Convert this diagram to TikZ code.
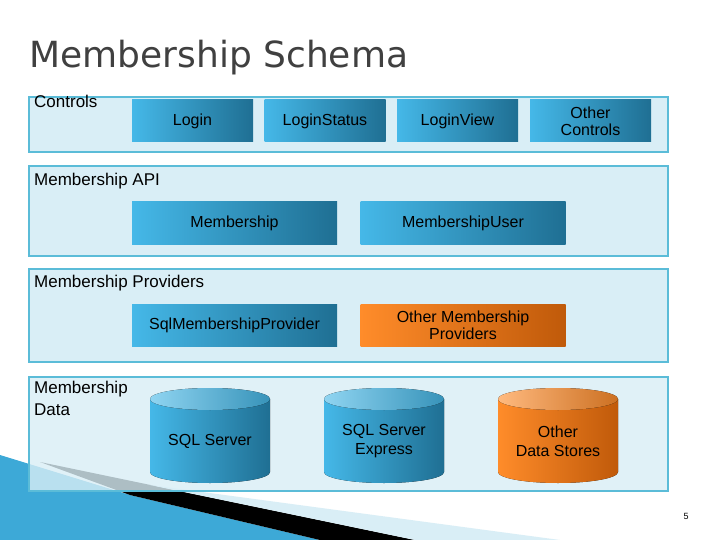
\documentclass[tikz,border=0pt]{standalone}
\usepackage{fontspec}
\setmainfont{Liberation Sans}
\newfontfamily\titlefont{DejaVu Sans}
\usetikzlibrary{shapes.geometric}
\definecolor{pbg}{HTML}{D9EEF6}
\definecolor{pline}{HTML}{5BBCD8}
\definecolor{bluel}{HTML}{45B8E8}
\definecolor{blued}{HTML}{1F6F93}
\definecolor{orl}{HTML}{FF8C2A}
\definecolor{ord}{HTML}{C05A0A}
\begin{document}
\begin{tikzpicture}[x=1pt,y=-1pt,
 panel/.style={draw=pline,line width=1.5pt,fill=pbg},
 bbox/.style={minimum width=121pt,minimum height=42pt,inner sep=0pt,left color=bluel,right color=blued,font=\fontsize{16pt}{17pt}\selectfont,align=center},
 wbox/.style={bbox,minimum width=205pt},
 obox/.style={wbox,left color=orl,right color=ord},
 plabel/.style={anchor=north west,font=\fontsize{17pt}{22pt}\selectfont,align=left,inner sep=0pt},
 cyltext/.style={font=\fontsize{16pt}{19pt}\selectfont,align=center}]
\useasboundingbox (0,0) rectangle (720,540);
\fill[white] (0,0) rectangle (720,540);
\node[anchor=west,text=black!75,font=\titlefont\fontsize{36pt}{38pt}\selectfont] (title) at (26,58) {Membership Schema};
% decoration
\fill[bluel!80!blued] (0,455) -- (130,495) -- (320,540) -- (0,540) -- cycle;
\fill[black] (40,462) -- (415,540) -- (320,540) -- (130,495) -- cycle;
\fill[pbg] (150,485) -- (560,540) -- (415,540) -- cycle;
% panels
\draw[panel] (29,97) rectangle (668,152);
\draw[panel] (29,166) rectangle (668,256);
\draw[panel] (29,269) rectangle (668,362);
\draw[panel,fill opacity=0.8] (29,377) rectangle (668,491);
\node[plabel] (lc) at (34,95) {Controls};
\node[plabel] (la) at (34,173) {Membership API};
\node[plabel] (lp) at (34,275) {Membership Providers};
\node[plabel] (ld) at (34,381) {Membership\\Data};
\node[bbox] (login) at (192.5,121) {Login};
\node[bbox] (lstat) at (325,121) {LoginStatus};
\node[bbox] (lview) at (457.5,121) {LoginView};
\node[bbox] (oc) at (590.5,121) {Other\\Controls};
\node[wbox] (mem) at (234.5,223) {Membership};
\node[wbox] (mu) at (463,223) {MembershipUser};
\node[wbox] (smp) at (234.5,325) {SqlMembershipProvider};
\node[obox] (omp) at (463,325) {Other Membership\\Providers};
% cylinders
\foreach \cx/\lc/\dc in {210/bluel/blued,384/bluel/blued,558/orl/ord}{
  \fill[left color=\lc,right color=\dc] (\cx-60,399) -- (\cx-60,472) arc[start angle=180,end angle=0,x radius=60,y radius=11] -- (\cx+60,399) -- cycle;
  \fill[left color=\lc!60!white,right color=\lc!80!black] (\cx,399) ellipse[x radius=60,y radius=11];
}
\node[cyltext] (sql) at (210,441) {SQL Server};
\node[cyltext] (sqle) at (384,441) {SQL Server\\Express};
\node[cyltext] (ods) at (558,441) {Other\\Data Stores};
\node[font=\fontsize{9pt}{10pt}\selectfont] (pg) at (686,516) {5};
\end{tikzpicture}
\end{document}
